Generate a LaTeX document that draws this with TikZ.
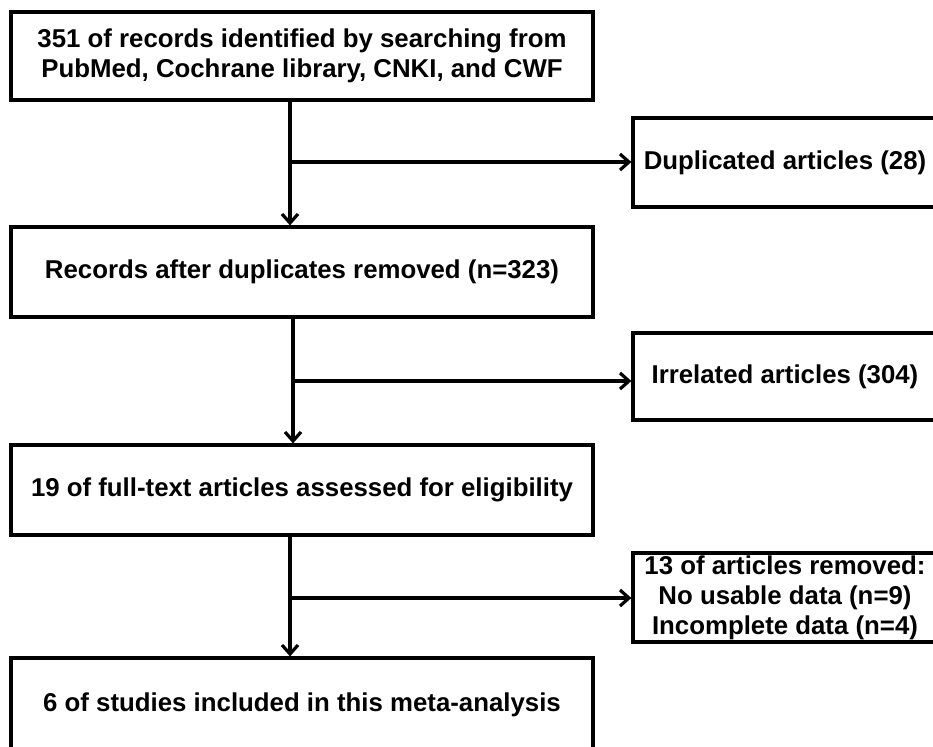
\documentclass[tikz,border=0pt]{standalone}
\usepackage{fontspec}
\setmainfont{Liberation Sans}
\usetikzlibrary{arrows.meta}
\tikzset{
  flowbox/.style={draw=black, line width=3.2pt, fill=white, rectangle, align=center,
    inner sep=0pt, font=\bfseries\fontsize{25.8}{30}\selectfont},
  mainbox/.style={flowbox, minimum width=582pt, minimum height=89pt},
  sidebox/.style={flowbox, minimum width=304pt},
  arr/.style={line width=3.2pt, -{Straight Barb[length=9pt,width=16pt,line width=3.2pt]}}
}
\begin{document}
\begin{tikzpicture}[x=1pt,y=-1pt]
\clip (0,0) rectangle (933,746);
\fill[white] (0,0) rectangle (933,746);
\node[mainbox, minimum height=88pt] (b1) at (302,56) {351 of records identified by searching from\\PubMed, Cochrane library, CNKI, and CWF};
\node[mainbox, minimum height=90pt] (b2) at (302,272) {Records after duplicates removed (n=323)};
\node[mainbox, minimum height=90pt] (b3) at (302,490) {19 of full-text articles assessed for eligibility};
\node[mainbox, minimum height=94pt] (b4) at (302,705) {6 of studies included in this meta-analysis};
\node[sidebox, minimum height=89pt] (s1) at (785,162.5) {Duplicated articles (28)};
\node[sidebox, minimum height=87pt] (s2) at (785,376.5) {Irrelated articles (304)};
\node[sidebox, minimum height=89pt] (s3) at (785,597.5) {13 of articles removed:\\No usable data (n=9)\\Incomplete data (n=4)};
\coordinate (v1) at (290,0);
\coordinate (v2) at (293,0);
\coordinate (v3) at (290,0);
\coordinate (j1) at (290,162);
\coordinate (j2) at (291,381);
\coordinate (j3) at (290,598);
\draw[arr] (b1.south -| v1) -- (b2.north -| v1);
\draw[arr] (j1) -- (s1.west |- j1);
\draw[arr] (b2.south -| v2) -- (b3.north -| v2);
\draw[arr] (j2) -- (s2.west |- j2);
\draw[arr] (b3.south -| v3) -- (b4.north -| v3);
\draw[arr] (j3) -- (s3.west |- j3);
\end{tikzpicture}
\end{document}
